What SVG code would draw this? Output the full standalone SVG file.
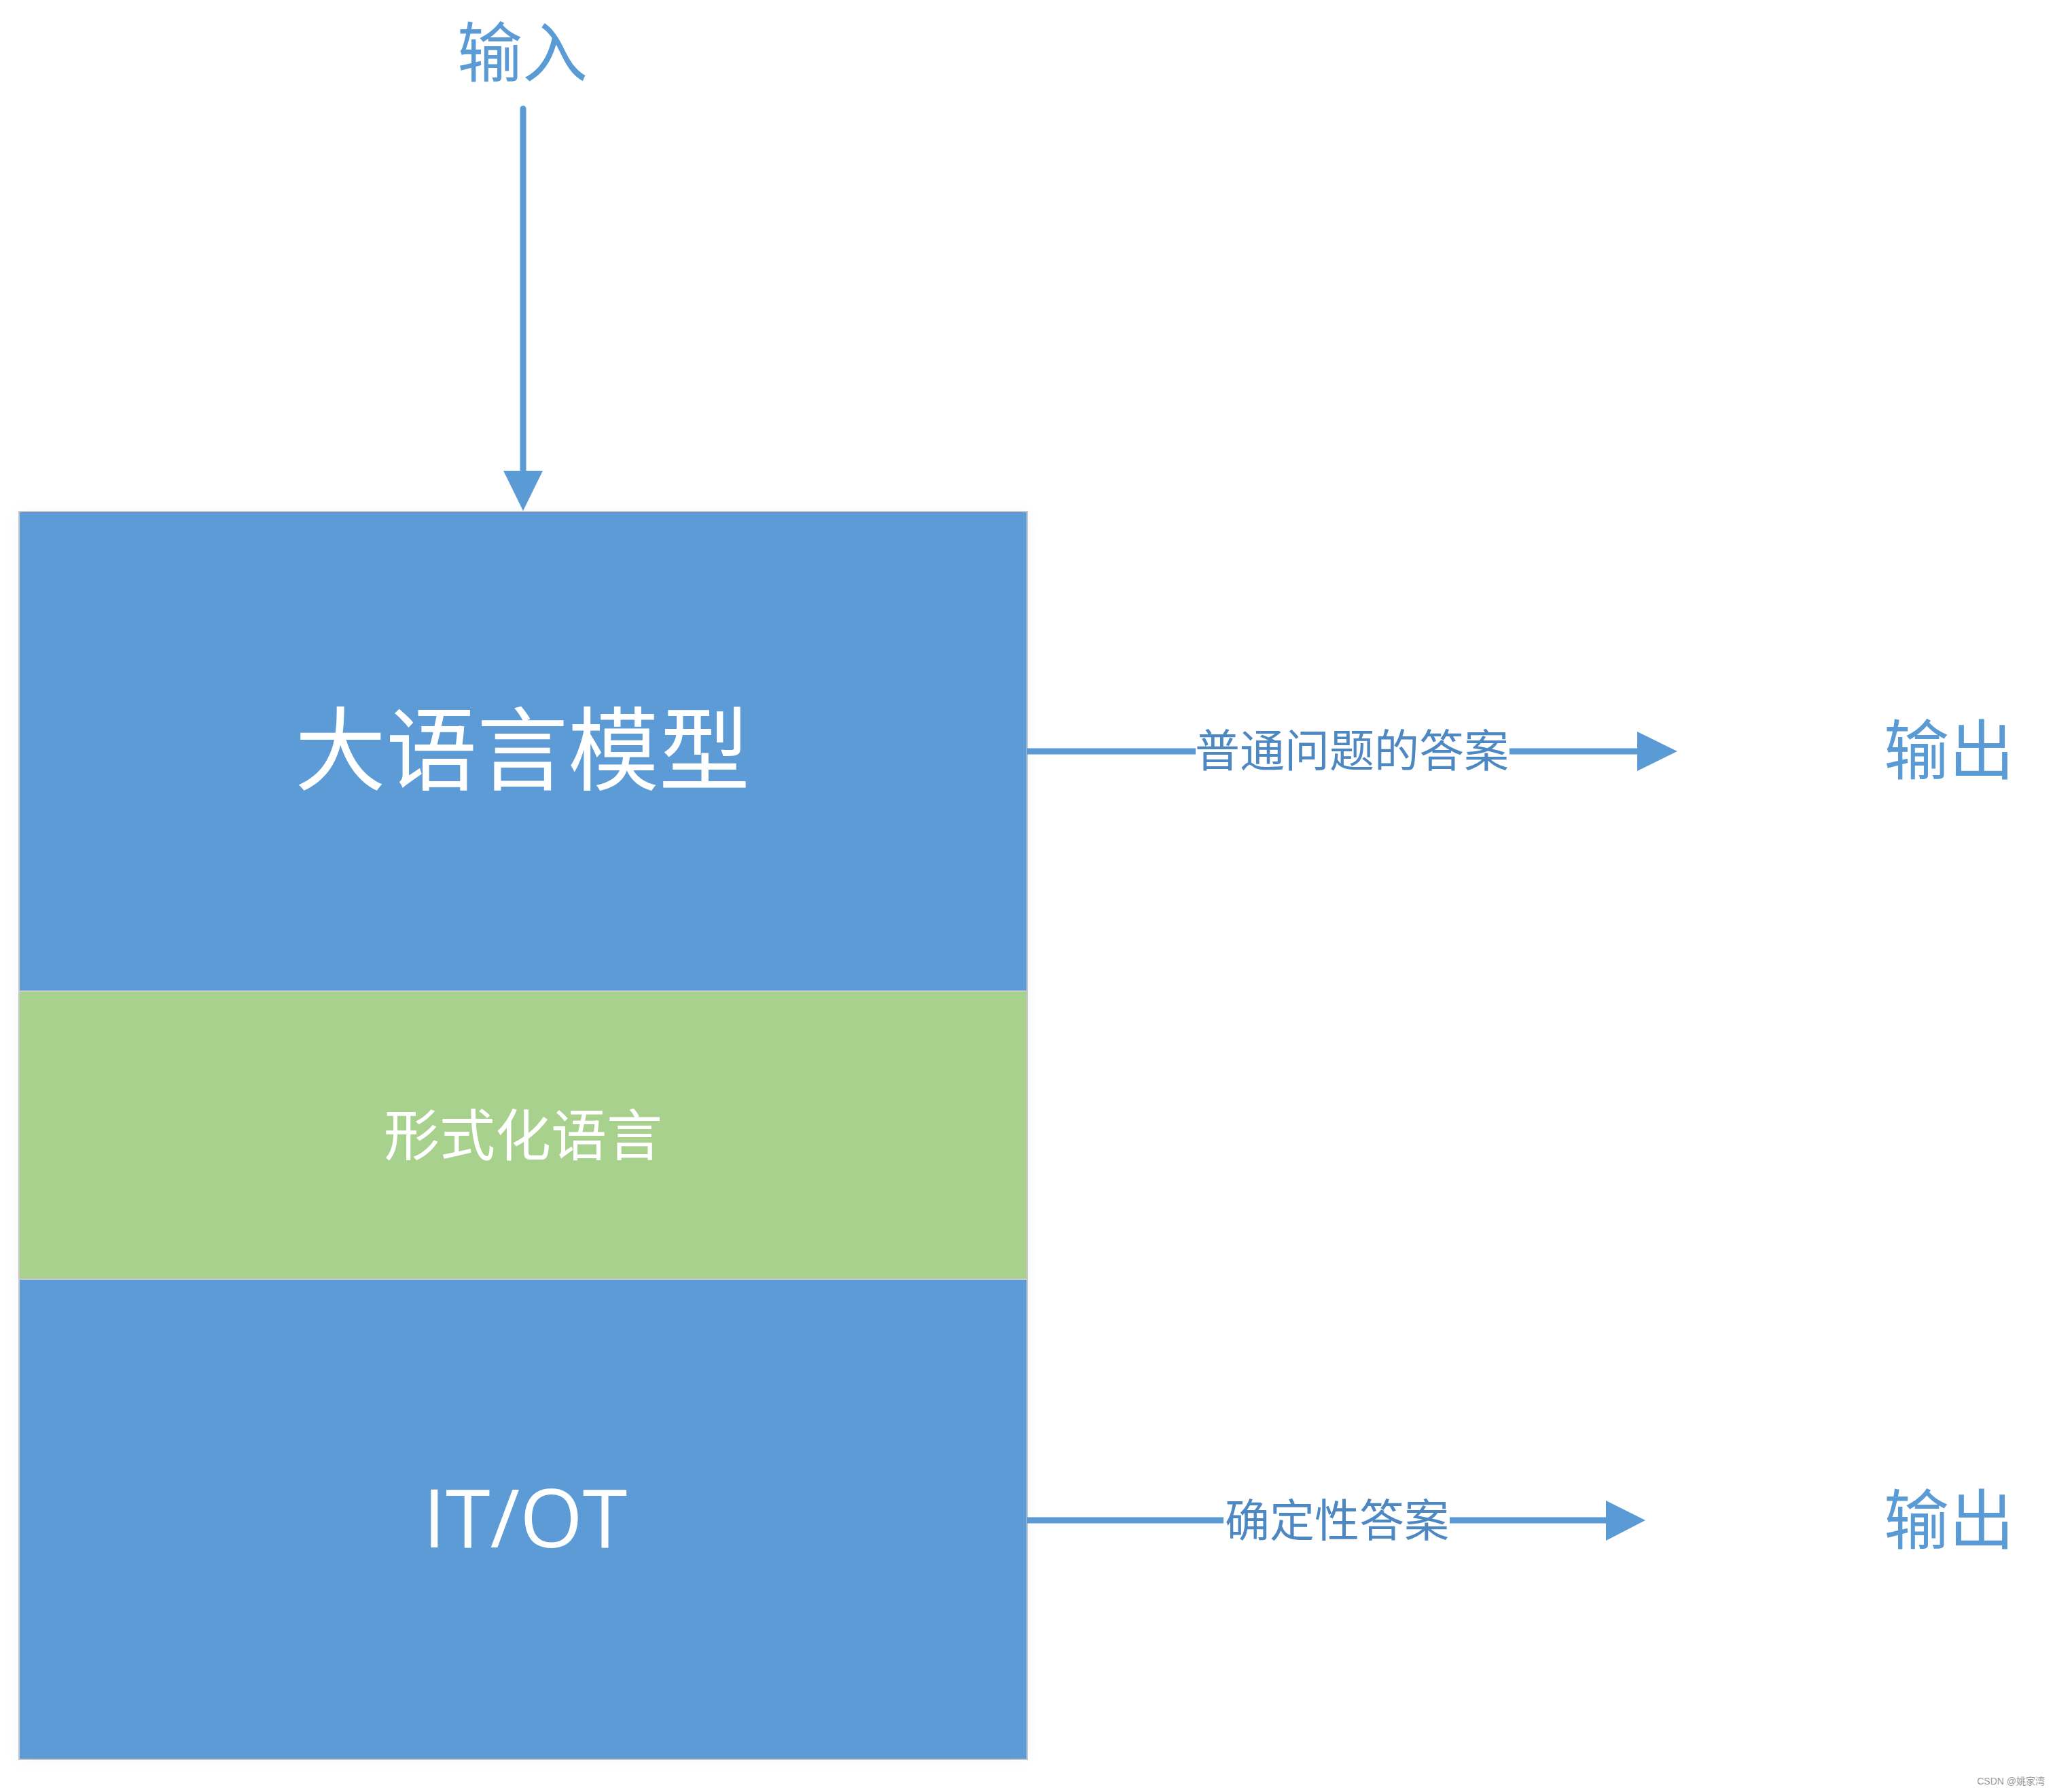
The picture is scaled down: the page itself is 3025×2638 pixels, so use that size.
<svg xmlns="http://www.w3.org/2000/svg" width="3025" height="2638" viewBox="0 0 3025 2638">
<style>
.cjk{font-family:"Noto Sans CJK SC","Noto Sans",sans-serif;text-anchor:middle}
.lbl{fill:#4E88C2;font-size:66px}
.io{fill:#5B9BD5;font-size:96px}
.conn{stroke:#5B9BD5;stroke-width:9;fill:none}
.head{fill:#5B9BD5}
.sec{stroke:#C8C8C8;stroke-width:2}
</style>
<defs>
<filter id="sh" x="-5%" y="-5%" width="110%" height="110%">
<feGaussianBlur in="SourceAlpha" stdDeviation="10"/>
<feColorMatrix type="matrix" values="0 0 0 0 0.75 0 0 0 0 0.82 0 0 0 0 0.95 0 0 0 0.35 0"/>
<feMerge><feMergeNode/><feMergeNode in="SourceGraphic"/></feMerge>
</filter>
</defs>
<rect width="3025" height="2638" fill="#FFFFFF"/>
<g id="stack" filter="url(#sh)">
<g id="llm">
<rect class="sec" x="28" y="753" width="1484" height="706" fill="#5B9BD5"/>
<text class="cjk" x="769" y="1153" font-size="134" fill="#FFFFFF">大语言模型</text>
</g>
<g id="formal">
<rect class="sec" x="28" y="1459" width="1484" height="424" fill="#A9D18E"/>
<text class="cjk" x="770" y="1701" font-size="82" fill="#FFFFFF">形式化语言</text>
</g>
<g id="itot">
<rect class="sec" x="28" y="1883" width="1484" height="707" fill="#5B9BD5"/>
<text x="773" y="2278" font-family="'Open Sans',sans-serif" font-size="119" fill="#FFFFFF" text-anchor="middle">IT/OT</text>
</g>
</g>
<g id="input">
<text class="cjk io" x="769" y="112">输入</text>
</g>
<g id="out1">
<text class="cjk io" x="2869" y="1139">输出</text>
</g>
<g id="out2">
<text class="cjk io" x="2869" y="2272">输出</text>
</g>
<g id="connectors">
<line class="conn" x1="770" y1="160" x2="770" y2="696" stroke-linecap="round"/>
<polygon class="head" points="741,693 799,693 770,752"/>
<line class="conn" x1="1512" y1="1106" x2="1760" y2="1106"/>
<line class="conn" x1="2222" y1="1106" x2="2412" y2="1106"/>
<polygon class="head" points="2410,1077 2469,1106 2410,1135"/>
<text class="cjk lbl" x="1990" y="1129">普通问题的答案</text>
<line class="conn" x1="1512" y1="2238" x2="1801" y2="2238"/>
<line class="conn" x1="2134" y1="2238" x2="2366" y2="2238"/>
<polygon class="head" points="2364,2209 2422,2238 2364,2268"/>
<text class="cjk lbl" x="1968" y="2262">确定性答案</text>
</g>
<text x="3010" y="2627" font-family="'Liberation Sans','Noto Sans CJK SC',sans-serif" font-size="14" fill="#9A9A9A" text-anchor="end">CSDN @姚家湾</text>
</svg>
